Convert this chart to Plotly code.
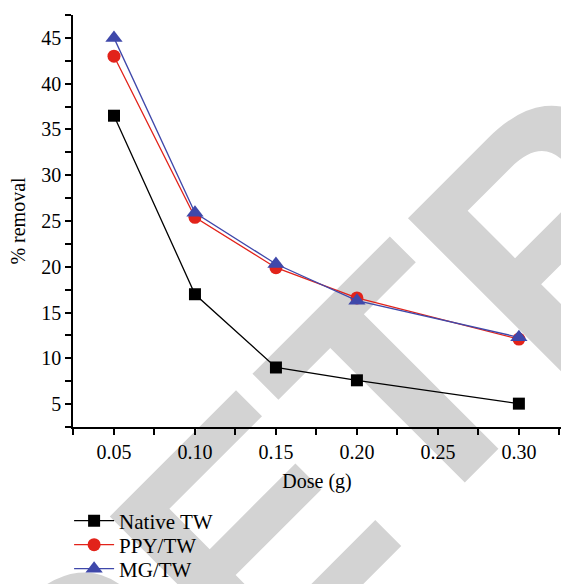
import base64
import plotly.graph_objects as go

# ---- data ----
dose = [0.05, 0.10, 0.15, 0.20, 0.30]
native_tw = [36.5, 17.0, 9.0, 7.6, 5.05]
ppy_tw = [43.0, 25.4, 19.9, 16.6, 12.1]
mg_tw = [45.0, 25.9, 20.3, 16.3, 12.3]
series_names = ["Native TW", "PPY/TW", "MG/TW"]
x_title = "Dose (g)"
y_title = "% removal"
watermark_text = "RETRACTED"

W, H = 561, 584
ML, MR, MT, MB = 73, 0, 15, 157
PW, PH = W - ML - MR, H - MT - MB

FONT = "Liberation Serif, Times New Roman, serif"
FS = 20

fig = go.Figure()
fig.add_trace(go.Scatter(x=dose, y=native_tw, name=series_names[0], mode="lines+markers",
                         line=dict(color="black", width=1.3),
                         marker=dict(symbol="square", size=12, color="black"),
                         legend="legend"))
fig.add_trace(go.Scatter(x=dose, y=ppy_tw, name=series_names[1], mode="lines+markers",
                         line=dict(color="#e2231a", width=1.3),
                         marker=dict(symbol="circle", size=13, color="#e2231a"),
                         legend="legend2"))
fig.add_trace(go.Scatter(x=dose, y=mg_tw, name=series_names[2], mode="lines+markers",
                         line=dict(color="#3f48aa", width=1.3),
                         marker=dict(symbol="triangle-up", size=15, color="#3f48aa"),
                         legend="legend3"))

# diagonal watermark, drawn as an svg image behind the plot
svg = (f'<svg xmlns="http://www.w3.org/2000/svg" width="{W}" height="{H}" viewBox="0 0 {W} {H}">'
       f'<text transform="translate(86.2,861.1) rotate(-45)" font-family="Liberation Sans, Arial, sans-serif" '
       f'font-weight="bold" font-size="330" fill="#d3d3d3">{watermark_text}</text></svg>')
uri = "data:image/svg+xml;base64," + base64.b64encode(svg.encode()).decode()


def leg(ypix):
    return dict(x=-0.008, y=(MT + PH - ypix) / PH, xanchor="left", yanchor="middle",
                bgcolor="rgba(0,0,0,0)", font=dict(size=21, family=FONT), itemwidth=40)


fig.update_layout(
    width=W, height=H,
    margin=dict(l=ML, r=MR, t=MT, b=MB, autoexpand=False),
    paper_bgcolor="white", plot_bgcolor="rgba(0,0,0,0)",
    font=dict(family=FONT, size=FS, color="black"),
    showlegend=True,
    legend=leg(521), legend2=leg(545), legend3=leg(569),
    images=[dict(source=uri, xref="paper", yref="paper",
                 x=-ML / PW, y=1 + MT / PH, sizex=W / PW, sizey=H / PH,
                 xanchor="left", yanchor="top", sizing="stretch", layer="below")],
)
fig.update_xaxes(range=[0.0247, 0.326], tick0=0.05, dtick=0.05, tickformat=".2f",
                 showgrid=False, zeroline=False, showline=True, linecolor="black", linewidth=1.5,
                 ticks="outside", ticklen=6, tickwidth=1.5, tickcolor="black",
                 minor=dict(ticks="outside", dtick=0.025, tick0=0.025, ticklen=6, tickwidth=1.5,
                            tickcolor="black", showgrid=False),
                 title=dict(text=x_title, standoff=12, font=dict(size=FS)),
                 tickfont=dict(size=FS))
fig.update_yaxes(range=[2.5, 47.5], tick0=5, dtick=5,
                 showgrid=False, zeroline=False, showline=True, linecolor="black", linewidth=1.5,
                 ticks="outside", ticklen=6, tickwidth=1.5, tickcolor="black",
                 minor=dict(ticks="outside", dtick=2.5, tick0=2.5, ticklen=6, tickwidth=1.5,
                            tickcolor="black", showgrid=False),
                 title=dict(text=y_title, standoff=10, font=dict(size=FS)),
                 tickfont=dict(size=FS))

fig.write_html("out.html")
